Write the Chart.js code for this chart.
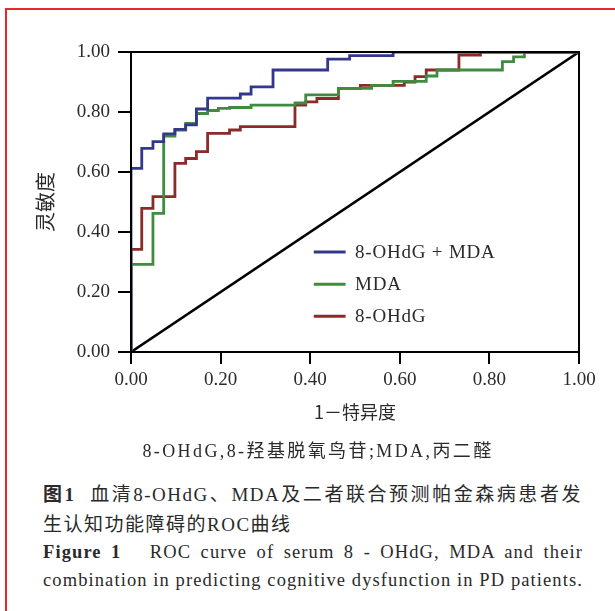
<!DOCTYPE html>
<html>
<head>
<meta charset="utf-8">
<script src="https://cdn.jsdelivr.net/npm/chart.js@4.4.1/dist/chart.umd.min.js"></script>
<style>
  html, body { margin: 0; padding: 0; background: #fff; }
  body { width: 615px; height: 611px; position: relative; overflow: hidden; }
  #frame { position: absolute; left: 5px; top: 8px; width: 800px; height: 800px;
           border-top: 2px solid #e8262d; border-left: 2px solid #e8262d; }
  #chart { position: absolute; left: 0; top: 0; }
  .txt { position: absolute; color: #2a2a2a; font-family: "Liberation Serif", "Noto Sans CJK SC", serif; }
  #note { left: 0; top: 438px; width: 636px; text-align: center; font-size: 18px; line-height: 22px; letter-spacing: 2.4px; }
  #capZh { left: 43px; top: 479px; width: 539px; font-size: 19px; line-height: 28px; letter-spacing: 1.5px; }
  #capZh .l1 { text-align: justify; text-align-last: justify; }
  #capEn { left: 43px; top: 538px; width: 540px; font-size: 18.5px; line-height: 28px; letter-spacing: 1.1px; }
  #capEn .l1 { text-align: justify; text-align-last: justify; }
  .cjk { font-family: "Noto Sans CJK SC", sans-serif; }
</style>
</head>
<body>
<div id="frame"></div>
<canvas id="chart" width="615" height="440"></canvas>
<div class="txt" id="note">8-OHdG,8-<span class="cjk">羟基脱氧鸟苷</span>;MDA,<span class="cjk">丙二醛</span></div>
<div class="txt" id="capZh">
  <div class="l1"><b class="cjk">图</b><b>1</b>&nbsp;&nbsp;<span class="cjk">血清</span>8-OHdG<span class="cjk">、</span>MDA<span class="cjk">及二者联合预测帕金森病患者发</span></div>
  <div><span class="cjk">生认知功能障碍的</span>ROC<span class="cjk">曲线</span></div>
</div>
<div class="txt" id="capEn">
  <div class="l1"><b>Figure 1</b>&nbsp;&nbsp; ROC curve of serum 8 - OHdG, MDA and their</div>
  <div>combination in predicting cognitive dysfunction in PD patients.</div>
</div>
<script>
// ROC points (1 - specificity, sensitivity)
const comboFpr = [0, 0, 0.024, 0.049, 0.073, 0.098, 0.122, 0.146, 0.171, 0.244, 0.268, 0.317, 0.439, 0.488, 0.585, 1];
const comboTpr = [0, 0.612, 0.679, 0.701, 0.727, 0.742, 0.757, 0.810, 0.846, 0.860, 0.884, 0.940, 0.976, 0.988, 1.0, 1.0];

const mdaFpr = [0, 0, 0.049, 0.073, 0.098, 0.122, 0.146, 0.171, 0.195, 0.220, 0.268, 0.366, 0.390, 0.463, 0.537, 0.585, 0.659, 0.683, 0.829, 0.854, 0.878, 1];
const mdaTpr = [0, 0.292, 0.462, 0.720, 0.740, 0.762, 0.795, 0.805, 0.812, 0.815, 0.823, 0.830, 0.857, 0.879, 0.889, 0.902, 0.920, 0.940, 0.968, 0.984, 1.0, 1.0];

const ohdgFpr = [0, 0, 0.024, 0.049, 0.098, 0.122, 0.146, 0.171, 0.220, 0.244, 0.366, 0.390, 0.415, 0.463, 0.512, 0.610, 0.634, 0.659, 0.732, 0.780, 1];
const ohdgTpr = [0, 0.342, 0.479, 0.518, 0.629, 0.645, 0.668, 0.729, 0.740, 0.751, 0.823, 0.834, 0.845, 0.879, 0.889, 0.900, 0.918, 0.940, 0.990, 1.0, 1.0];

const refLine = [0, 1];
const tickValues = [0, 0.2, 0.4, 0.6, 0.8, 1.0];
const seriesNames = ['8-OHdG + MDA', 'MDA', '8-OHdG'];
const seriesColors = ['#34388c', '#3f8b40', '#8c2a2a'];

const serif = "'Liberation Serif', 'Noto Sans CJK SC', serif";
const cjk = "'Noto Sans CJK SC', sans-serif";

function toPoints(xs, ys) {
    return xs.map((x, i) => ({ x: x, y: ys[i] }));
}

// box round the plot area
const framePlugin = {
    id: 'frame',
    afterDatasetsDraw(chart) {
        const a = chart.chartArea;
        const ctx = chart.ctx;
        ctx.save();
        ctx.strokeStyle = '#000';
        ctx.lineWidth = 2;
        ctx.strokeRect(a.left, a.top, a.right - a.left, a.bottom - a.top);
        ctx.restore();
    }
};

// legend drawn inside the plot, like the figure
const innerLegend = {
    id: 'innerLegend',
    afterDraw(chart) {
        const ctx = chart.ctx;
        const x = chart.scales.x;
        const y = chart.scales.y;
        const x0 = x.getPixelForValue(0.408);
        const x1 = x.getPixelForValue(0.479);
        const tx = x.getPixelForValue(0.500);
        ctx.save();
        ctx.font = '19px ' + serif;
        ctx.letterSpacing = '0.8px';
        ctx.textBaseline = 'middle';
        ctx.fillStyle = '#2a2a2a';
        seriesNames.forEach((name, i) => {
            const yy = y.getPixelForValue(0.333 - i * 0.107);
            ctx.strokeStyle = seriesColors[i];
            ctx.lineWidth = 3;
            ctx.beginPath();
            ctx.moveTo(x0, yy);
            ctx.lineTo(x1, yy);
            ctx.stroke();
            ctx.fillText(name, tx, yy + 1);
        });
        ctx.restore();
    }
};

const lineStyle = (color) => ({
    borderColor: color,
    backgroundColor: color,
    borderWidth: 2.8,
    pointRadius: 0,
    fill: false,
    stepped: true,
    borderJoinStyle: 'miter',
    borderCapStyle: 'butt'
});

new Chart(document.getElementById('chart'), {
    type: 'line',
    data: {
        datasets: [
            Object.assign({ label: seriesNames[0], data: toPoints(comboFpr, comboTpr) }, lineStyle(seriesColors[0])),
            Object.assign({ label: seriesNames[1], data: toPoints(mdaFpr, mdaTpr) }, lineStyle(seriesColors[1])),
            Object.assign({ label: seriesNames[2], data: toPoints(ohdgFpr, ohdgTpr) }, lineStyle(seriesColors[2])),
            {
                label: 'ref',
                data: toPoints(refLine, refLine),
                borderColor: '#000',
                borderWidth: 2.6,
                pointRadius: 0,
                fill: false
            }
        ]
    },
    options: {
        responsive: false,
        animation: false,
        layout: { padding: { left: 0, right: 36, top: 52, bottom: 0 } },
        plugins: {
            legend: { display: false },
            tooltip: { enabled: false }
        },
        scales: {
            x: {
                type: 'linear',
                min: 0,
                max: 1,
                afterBuildTicks: (s) => { s.ticks = tickValues.map(v => ({ value: v })); },
                afterFit: (s) => { s.height = 88; },
                grid: { display: true, drawOnChartArea: false, drawTicks: true, tickLength: 12, color: '#000', lineWidth: 2 },
                border: { display: true, color: '#000', width: 2 },
                ticks: {
                    padding: 5,
                    color: '#2a2a2a',
                    font: { family: serif, size: 19 },
                    callback: (v) => Number(v).toFixed(2)
                },
                title: {
                    display: true,
                    text: '1－特异度',
                    color: '#2a2a2a',
                    font: { family: cjk, size: 18 },
                    padding: { top: 0, bottom: 17 }
                }
            },
            y: {
                type: 'linear',
                min: 0,
                max: 1,
                afterBuildTicks: (s) => { s.ticks = tickValues.map(v => ({ value: v })); },
                afterFit: (s) => { s.width = 131; },
                grid: { display: true, drawOnChartArea: false, drawTicks: true, tickLength: 13, color: '#000', lineWidth: 2 },
                border: { display: true, color: '#000', width: 2 },
                ticks: {
                    padding: 8,
                    color: '#2a2a2a',
                    font: { family: serif, size: 19 },
                    callback: (v) => Number(v).toFixed(2)
                },
                title: {
                    display: true,
                    text: '灵敏度',
                    color: '#2a2a2a',
                    font: { family: cjk, size: 20 },
                    padding: { top: 33, bottom: 0 }
                }
            }
        }
    },
    plugins: [framePlugin, innerLegend]
});
</script>
</body>
</html>
